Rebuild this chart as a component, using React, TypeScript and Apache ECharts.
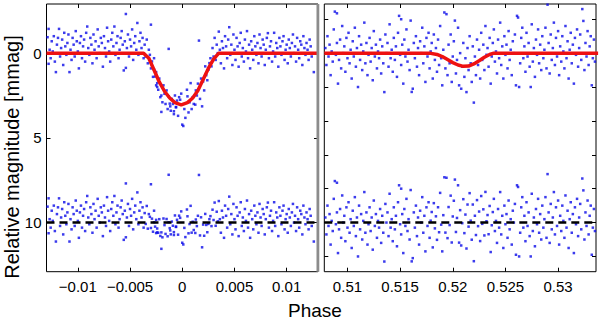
import React, { useEffect, useRef } from "react";
import * as echarts from "echarts";

// ---- Data ----
// Primary transit (phase ~0): observed points [phase, mmag]
const primaryObs: [number, number][] = [
  [-0.0129,-0.94],[-0.0128,0.63],[-0.0128,-1.43],[-0.0127,-0.2],[-0.0126,0.3],[-0.0125,-0.7],[-0.0124,-0.1],[-0.0123,-1.0],
  [-0.0122,0.5],[-0.0121,1.12],[-0.012,-0.5],[-0.0119,-0.9],[-0.0118,-1.43],[-0.0117,0.2],[-0.0116,-0.3],[-0.0115,-0.8],
  [-0.0114,0.7],[-0.0113,-1.2],[-0.0112,-0.4],[-0.0111,0.1],[-0.011,-0.6],[-0.0109,-1.1],[-0.0108,1.12],[-0.0107,-0.2],
  [-0.0106,0.4],[-0.0105,-0.9],[-0.0104,-0.5],[-0.0103,0.2],[-0.0102,-1.3],[-0.0101,-0.7],[-0.01,-0.1],[-0.0099,0.9],
  [-0.0098,-0.6],[-0.0097,-1.0],[-0.0096,0.3],[-0.0095,-0.4],[-0.0094,-0.8],[-0.0093,0.5],[-0.0092,-1.2],[-0.0091,-1.57],
  [-0.009,-0.3],[-0.0089,0.1],[-0.0088,-0.9],[-0.0087,-0.5],[-0.0086,0.6],[-0.0085,-1.1],[-0.0084,-0.2],[-0.0083,-0.7],
  [-0.0082,0.3],[-0.0081,-1.4],[-0.008,-0.4],[-0.0079,0.0],[-0.0078,-0.9],[-0.0077,-0.6],[-0.0076,0.8],[-0.0075,-1.0],
  [-0.0074,-0.3],[-0.0073,0.2],[-0.0072,-1.5],[-0.0071,-0.7],[-0.007,-0.1],[-0.0069,0.5],[-0.0068,-0.8],[-0.0067,-1.2],
  [-0.0066,-0.4],[-0.0065,-1.57],[-0.0064,0.1],[-0.0063,-0.6],[-0.0062,-1.0],[-0.0061,0.3],[-0.006,-0.2],[-0.0059,-0.9],
  [-0.0058,-1.3],[-0.0057,-0.5],[-0.0056,1.02],[-0.0055,-0.7],[-0.0054,-2.31],[-0.0054,0.87],[-0.0053,-0.3],[-0.0052,-1.1],
  [-0.0051,0.2],[-0.005,-0.8],[-0.0049,-0.4],[-0.0048,-1.4],[-0.0047,0.4],[-0.0046,-0.6],[-0.0045,-1.0],[-0.0044,-0.2],
  [-0.0043,-1.78],[-0.0042,0.1],[-0.0041,-0.7],[-0.004,-1.2],[-0.0039,-0.3],[-0.0038,-0.9],[-0.0037,0.3],
  [-0.0036,-0.5],[-0.0035,0.2],[-0.0034,-0.8],[-0.0033,0.6],[-0.0032,-0.2],[-0.0031,0.1],[-0.003,-1.68],[-0.003,0.9],
  [-0.0029,0.49],[-0.0028,1.4],[-0.0027,0.98],[-0.0027,0.3],[-0.0026,1.38],[-0.0025,1.12],[-0.0025,1.9],[-0.0024,1.77],
  [-0.0024,2.0],[-0.0023,2.16],[-0.0022,1.5],[-0.0021,2.6],[-0.002,2.5],[-0.002,3.47],[-0.0019,2.9],[-0.0018,1.9],
  [-0.0017,2.4],[-0.0016,3.0],[-0.0015,2.2],[-0.0014,3.3],[-0.0013,-0.25],[-0.0013,2.55],[-0.0012,2.98],[-0.00115,3.14],
  [-0.0011,3.4],[-0.001,2.7],[-0.0009,3.0],[-0.0008,3.43],[-0.0008,3.6],[-0.0007,2.5],[-0.0006,3.2],[-0.0006,3.18],
  [-0.0005,2.8],[-0.0004,3.7],[-0.0003,2.6],[-0.0002,2.75],[-0.0001,2.39],[0.0,4.22],[0.0001,4.3],[0.0002,3.3],
  [0.0003,3.82],[0.00045,2.16],[0.0005,2.55],[0.0006,3.5],[0.0007,2.9],[0.0008,1.77],[0.0009,3.3],[0.001,2.6],
  [0.0011,3.0],[0.00125,3.04],[0.0013,2.2],[0.0014,2.5],[0.0015,1.8],[0.0016,-0.74],[0.0017,2.7],[0.0018,1.5],
  [0.0019,3.14],[0.002,1.67],[0.0021,2.2],[0.0022,0.78],[0.0023,1.3],[0.0024,1.6],[0.0025,0.98],[0.0026,0.59],
  [0.0027,0.3],[0.0028,0.78],[0.0029,-0.3],[0.003,0.2],[0.0031,-0.9],[0.0032,0.4],[0.0033,-0.5],[0.0034,0.0],
  [0.0035,-1.27],[0.0036,-0.2],
  [0.0037,0.6],[0.0038,-0.7],[0.0039,-0.3],[0.004,0.9],[0.0041,-1.0],[0.0042,-0.4],[0.0043,0.3],[0.0044,-0.8],
  [0.0045,-1.53],[0.0046,0.1],[0.0047,-0.5],[0.0048,0.7],[0.0049,-1.1],[0.005,-0.2],[0.0051,0.4],[0.0052,-0.9],
  [0.0053,-0.4],[0.0054,0.8],[0.0055,-0.6],[0.0056,-1.2],[0.0057,0.2],[0.0058,-0.3],[0.0059,0.5],[0.006,-0.8],
  [0.0061,-0.1],[0.0062,-1.3],[0.0063,0.3],[0.0064,-0.5],[0.0065,0.9],[0.0066,-0.7],[0.0067,-0.2],[0.0068,0.4],
  [0.0069,-1.0],[0.007,-0.4],[0.0071,0.1],[0.0072,-0.6],[0.0073,0.6],[0.0074,-1.1],[0.0075,-0.3],[0.0076,0.2],
  [0.0077,-0.8],[0.0078,-0.5],[0.0079,0.7],[0.008,-0.2],[0.0081,-0.9],[0.0082,-1.18],[0.0083,0.3],[0.0084,-0.4],
  [0.0085,-0.7],[0.0086,0.5],[0.0087,-0.1],[0.0088,-1.2],[0.0089,0.2],[0.009,-0.6],[0.0091,-0.3],[0.0092,0.8],
  [0.0093,-0.9],[0.0094,-0.4],[0.0095,0.1],[0.0096,-0.7],[0.0097,-1.0],[0.0098,0.4],[0.0099,-0.2],[0.01,-0.5],
  [0.0101,0.6],[0.0102,-0.8],[0.0103,-0.3],[0.0104,0.2],[0.0105,-0.6],[0.0106,-1.1],[0.0107,0.0],[0.0108,-0.4],
  [0.0109,0.5],[0.011,-0.9],[0.0111,-0.2],[0.0112,0.3],[0.0113,-0.7],[0.0114,-0.5],[0.0115,0.7],[0.0116,-1.0],
  [0.0117,-0.3],[0.0118,0.1],[0.0119,-0.6],[0.012,-0.2],[0.0121,0.4],[0.0122,-0.8],[0.0123,-0.4],[0.0124,0.2],
  [0.0126,1.12],
];

// Secondary eclipse (phase ~0.52): observed points [phase, mmag]
const secondaryObs: [number, number][] = [
  [0.5079,-0.3],[0.508,0.7],[0.5081,-1.0],[0.5082,0.2],[0.5083,-0.5],[0.5084,1.3],[0.5085,-0.1],[0.5086,0.5],
  [0.5087,-1.4],[0.5088,-2.45],[0.5089,0.1],[0.509,-2.35],[0.509,-0.6],[0.5091,1.8],[0.5092,0.4],[0.5093,-0.8],
  [0.5094,0.9],[0.5095,-1.6],[0.5096,0.0],[0.5097,-0.4],[0.5098,1.1],[0.5099,-0.9],[0.51,0.3],[0.5101,-1.2],
  [0.5102,0.6],[0.5103,-0.2],[0.5104,1.5],[0.5105,-0.7],[0.5106,0.2],[0.5107,-1.5],[0.5108,0.8],[0.5109,-0.3],
  [0.511,2.0],[0.5111,-1.0],[0.5112,0.4],[0.5113,-0.5],[0.5114,1.0],[0.5115,-0.1],[0.5116,-1.8],[0.5117,0.6],
  [0.5118,-0.6],[0.5119,1.3],[0.512,0.1],[0.5121,-0.9],[0.5122,0.5],[0.5123,-0.3],[0.5124,1.6],[0.5125,-1.3],
  [0.5126,0.2],[0.5127,-0.5],[0.5128,0.9],[0.5129,-0.1],[0.513,0.3],[0.5131,-0.8],[0.5132,1.2],[0.5133,-0.4],
  [0.5134,0.6],[0.5135,2.3],[0.5136,-1.1],[0.5137,0.0],[0.5138,-0.6],[0.5139,0.8],[0.514,-1.7],[0.5141,0.3],
  [0.5142,-0.2],[0.5143,1.1],[0.5144,-0.9],[0.5145,0.4],[0.5146,-0.4],[0.5147,1.4],[0.5148,-1.2],[0.5149,-2.2],
  [0.515,0.1],[0.5151,-2.0],[0.5151,0.7],[0.5152,-0.5],[0.5153,1.8],[0.5154,-0.8],[0.5155,0.2],[0.5156,-1.4],
  [0.5157,0.5],[0.5158,-0.2],[0.5159,1.0],[0.516,-1.92],[0.5161,2.29],[0.5162,2.1],[0.5163,-0.6],[0.5164,0.3],
  [0.5165,-1.0],[0.5166,0.8],[0.5167,-0.3],[0.5168,1.3],[0.5169,-0.7],[0.517,0.0],[0.5171,-1.5],[0.5172,0.6],
  [0.5173,-0.4],[0.5174,1.7],[0.5175,-0.9],[0.5176,0.2],[0.5177,-1.2],[0.5178,0.9],[0.5179,-0.1],[0.518,-0.6],
  [0.5181,1.5],[0.5182,-1.1],[0.5183,0.4],[0.5184,-0.3],[0.5185,1.1],[0.5186,-0.8],[0.5187,0.7],[0.5188,-1.6],
  [0.5189,0.3],[0.519,1.9],[0.5191,-0.2],[0.5192,-2.4],[0.5193,0.9],[0.5194,-2.3],[0.5195,1.3],[0.5196,-0.5],
  [0.5197,0.6],[0.5198,-1.1],[0.5199,1.7],[0.52,0.2],[0.5201,-0.7],[0.5202,-1.92],[0.5203,1.2],[0.5204,0.4],
  [0.5205,-1.5],[0.5206,1.9],[0.5207,0.0],[0.5208,2.1],[0.5209,0.8],[0.521,-0.6],[0.5211,1.4],[0.5212,0.3],
  [0.5213,2.3],[0.5214,-0.3],[0.5215,1.0],[0.5216,-1.0],[0.5217,0.6],[0.5218,1.7],[0.5219,-0.4],[0.522,2.92],
  [0.5221,0.2],[0.5222,1.3],[0.5223,-0.8],[0.5224,0.7],[0.5225,-0.2],[0.5226,1.5],[0.5227,-1.2],[0.5228,0.4],
  [0.5229,-0.5],[0.523,1.0],[0.5231,-1.6],[0.5232,0.1],[0.5233,-0.3],[0.5234,0.8],[0.5235,-0.9],[0.5236,1.8],
  [0.5237,0.2],[0.5238,-0.6],[0.5239,-1.4],[0.524,0.5],[0.5241,-0.1],[0.5242,1.2],[0.5243,-0.8],[0.5244,0.3],
  [0.5245,-1.8],[0.5246,0.7],[0.5247,-0.4],[0.5248,1.5],[0.5249,-1.0],[0.525,0.1],[0.5251,-0.5],[0.5252,0.9],
  [0.5253,-1.3],[0.5254,0.4],[0.5255,-0.2],[0.5256,1.3],[0.5257,-0.7],[0.5258,0.0],[0.5259,-1.1],[0.526,1.9],
  [0.5261,-2.2],[0.5262,-2.1],[0.5263,2.0],[0.5264,0.6],[0.5265,-0.9],[0.5266,-1.5],[0.5267,0.3],[0.5268,-0.4],
  [0.5269,1.1],[0.527,-1.2],[0.5271,0.2],[0.5272,-0.6],[0.5273,0.8],[0.5274,2.0],[0.5275,-1.7],[0.5276,0.5],
  [0.5277,-0.3],[0.5278,1.4],[0.5279,-0.8],[0.528,0.1],[0.5281,-1.4],[0.5282,0.6],[0.5283,-0.5],[0.5284,1.0],
  [0.5285,-1.0],[0.5286,0.3],[0.5287,-0.2],[0.5288,-1.5],[0.5289,0.9],[0.529,-2.86],[0.5291,-0.6],[0.5292,1.2],
  [0.5293,-1.1],[0.5294,0.4],[0.5295,-0.3],[0.5296,-1.8],[0.5297,0.7],[0.5298,-0.9],[0.5299,0.2],[0.53,-1.3],
  [0.5301,1.3],[0.5302,-0.4],[0.5303,0.5],[0.5304,-1.0],[0.5305,-0.1],[0.5306,0.9],[0.5307,-1.6],[0.5308,0.3],
  [0.5309,-0.7],[0.531,1.5],[0.5311,-0.2],[0.5312,-1.2],[0.5313,0.6],[0.5314,-0.5],[0.5315,1.8],[0.5316,-0.9],
  [0.5317,0.1],[0.5318,-1.4],[0.5319,0.8],[0.532,-0.3],[0.5321,-1.1],[0.5322,0.4],[0.5323,-2.6],[0.5324,-1.9],
  [0.5325,1.0],[0.5326,-0.6],[0.5327,0.2],[0.5328,-1.3],[0.5329,0.7],[0.533,-0.4],[0.5331,-1.0],[0.5332,1.9],
  [0.5333,0.3],[0.5334,-0.8],[0.5335,0.5],
];

// Model curves (red lines)
const primaryModelX = [-0.013,-0.0037,-0.0032,-0.0027,-0.0022,-0.0017,-0.0012,-0.0007,-0.0001,0.0005,0.001,0.0015,0.002,0.0025,0.003,0.0035,0.013];
const primaryModelY = [0,0,0.3,1.0,1.7,2.25,2.65,2.92,3.05,2.92,2.65,2.2,1.55,0.9,0.35,0,0];
const secondaryModelX = [0.5078,0.5178,0.5185,0.519,0.5195,0.52,0.5205,0.521,0.5215,0.522,0.5225,0.523,0.5235,0.5239,0.5338];
const secondaryModelY = [0,0,0.08,0.2,0.38,0.56,0.7,0.78,0.76,0.64,0.45,0.24,0.08,0,0];

// Residuals are plotted with this offset (dashed line)
const residualOffset = 10;

// Axis ranges and ticks
const primaryRange = [-0.013, 0.013];
const secondaryRange = [0.5078, 0.5336];
const magRange = [-2.9, 12.9];
const primaryXTicks = [-0.01, -0.005, 0, 0.005, 0.01];
const secondaryXTicks = [0.51, 0.515, 0.52, 0.525, 0.53];
const primaryYTicks = [0, 5, 10];
const secondaryYTicks = [-2, 0, 2, 4, 6, 8, 10, 12];

const FONT = '"Liberation Sans", Arial, Helvetica, sans-serif';

function interp(xs: number[], ys: number[], x: number): number {
  if (x <= xs[0]) return ys[0];
  for (let i = 1; i < xs.length; i++) {
    if (x <= xs[i]) {
      const t = (x - xs[i - 1]) / (xs[i] - xs[i - 1]);
      return ys[i - 1] + t * (ys[i] - ys[i - 1]);
    }
  }
  return ys[ys.length - 1];
}

function residuals(obs: [number, number][], mx: number[], my: number[]) {
  return obs.map(([x, y]) => [x, y - interp(mx, my, x) + residualOffset]);
}

const fmt = (v: number) => (v < 0 ? "\u2212" + String(-v) : String(v));

function App() {
  const ref = useRef<HTMLDivElement>(null);
  useEffect(() => {
    if (!ref.current) return;
    const chart = echarts.init(ref.current, undefined, { renderer: "svg" });
    const top = 4;
    const height = 267.7;
    const gridBase = { top, height, show: true, borderColor: "#000", borderWidth: 1, containLabel: false };
    const tickStyle = { show: true, inside: true, length: 4, lineStyle: { color: "#000", width: 1 } };
    const xAx = (grid: number, range: number[], ticks: number[], position: string, labels: boolean) => ({
      type: "value",
      gridIndex: grid,
      position,
      min: range[0],
      max: range[1],
      axisLine: { show: false, onZero: false },
      splitLine: { show: false },
      axisTick: { ...tickStyle, customValues: ticks },
      axisLabel: labels
        ? { show: true, customValues: ticks, formatter: fmt, color: "#000", fontSize: 15, fontFamily: FONT, margin: 7 }
        : { show: false },
    });
    const yAx = (grid: number, ticks: number[], position: string, labels: boolean) => ({
      type: "value",
      gridIndex: grid,
      position,
      inverse: true,
      min: magRange[0],
      max: magRange[1],
      axisLine: { show: false, onZero: false },
      splitLine: { show: false },
      axisTick: { ...tickStyle, customValues: ticks },
      axisLabel: labels
        ? { show: true, customValues: ticks, formatter: fmt, color: "#000", fontSize: 15, fontFamily: FONT, margin: 5 }
        : { show: false },
    });
    const dotColor = "#0a0ae8";
    const scatter = (xi: number, data: any) => ({
      type: "scatter",
      xAxisIndex: xi,
      yAxisIndex: xi,
      data,
      symbol: "rect",
      symbolSize: 2.5,
      itemStyle: { color: dotColor },
      silent: true,
      z: 2,
    });
    const model = (xi: number, xs: number[], ys: number[]) => ({
      type: "line",
      xAxisIndex: xi,
      yAxisIndex: xi,
      data: xs.map((x, i) => [x, ys[i]]),
      showSymbol: false,
      symbol: "none",
      lineStyle: { color: "#ee1111", width: 3.5 },
      silent: true,
      z: 4,
    });
    const dashed = (xi: number, range: number[]) => ({
      type: "line",
      xAxisIndex: xi,
      yAxisIndex: xi,
      data: [[range[0], residualOffset], [range[1], residualOffset]],
      showSymbol: false,
      symbol: "none",
      lineStyle: { color: "#000", width: 2.5, type: [8, 5] },
      silent: true,
      z: 4,
    });
    chart.setOption({
      animation: false,
      backgroundColor: "#fff",
      grid: [
        { ...gridBase, left: 46.5, width: 271.5 },
        { ...gridBase, left: 324.3, width: 271.7 },
      ],
      xAxis: [
        xAx(0, primaryRange, primaryXTicks, "bottom", true),
        xAx(1, secondaryRange, secondaryXTicks, "bottom", true),
        xAx(0, primaryRange, primaryXTicks, "top", false),
        xAx(1, secondaryRange, secondaryXTicks, "top", false),
      ],
      yAxis: [
        yAx(0, primaryYTicks, "left", true),
        yAx(1, secondaryYTicks, "left", false),
        yAx(0, primaryYTicks, "right", false),
        yAx(1, secondaryYTicks, "right", false),
      ],
      series: [
        scatter(0, primaryObs),
        scatter(0, residuals(primaryObs, primaryModelX, primaryModelY)),
        scatter(1, secondaryObs),
        scatter(1, residuals(secondaryObs, secondaryModelX, secondaryModelY)),
        model(0, primaryModelX, primaryModelY),
        model(1, secondaryModelX, secondaryModelY),
        dashed(0, primaryRange),
        dashed(1, secondaryRange),
      ],
      graphic: [
        {
          type: "rect",
          shape: { x: 316.5, y: top, width: 2.8, height },
          style: { fill: "#8c8c8c" },
          z: 10,
        },
        {
          type: "text",
          x: 12,
          y: 157,
          rotation: Math.PI / 2,
          style: {
            text: "Relative magnitude [mmag]",
            font: `20px ${FONT}`,
            fill: "#000",
            textAlign: "center",
            textVerticalAlign: "middle",
          },
        },
        {
          type: "text",
          x: 315,
          y: 310,
          style: {
            text: "Phase",
            font: `19px ${FONT}`,
            fill: "#000",
            textAlign: "center",
            textVerticalAlign: "middle",
          },
        },
      ],
    });
    return () => chart.dispose();
  }, []);
  return (
    <div
      ref={ref}
      style={{ position: "fixed", left: 0, top: 0, width: 600, height: 319, background: "#fff" }}
    />
  );
}

export default App;
